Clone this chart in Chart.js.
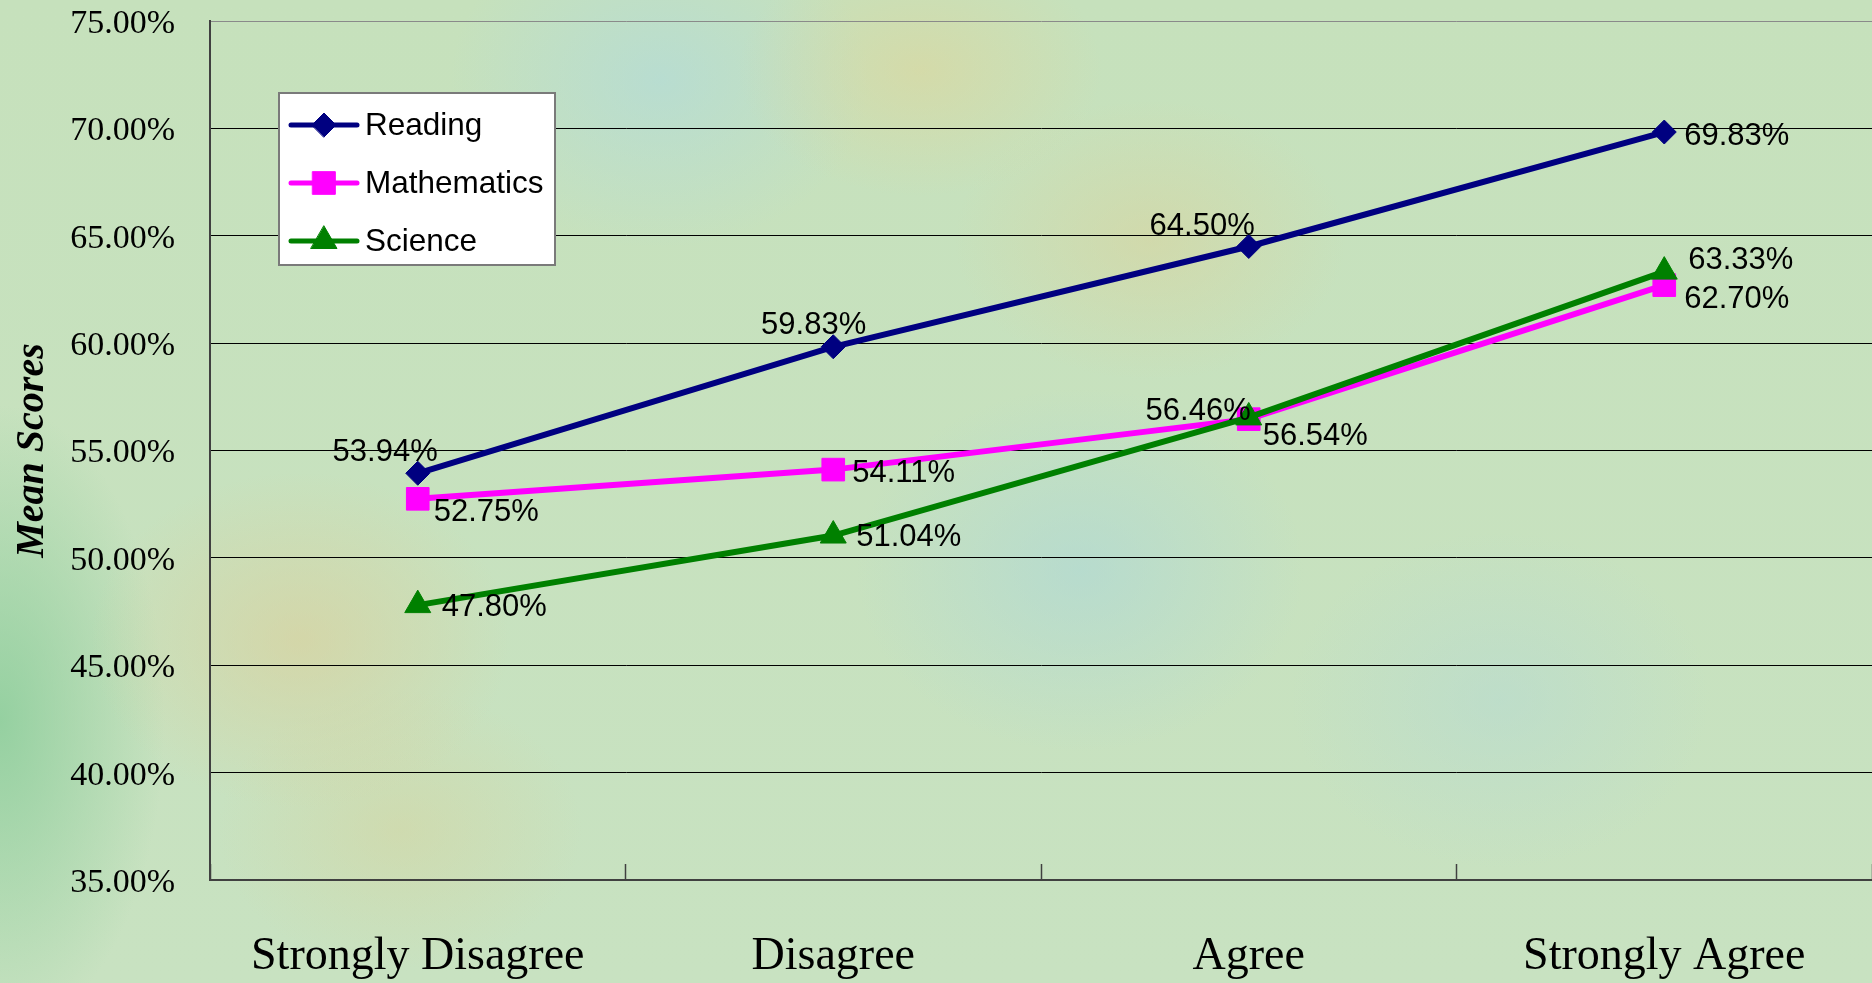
<!DOCTYPE html>
<html>
<head>
<meta charset="utf-8">
<script src="https://cdn.jsdelivr.net/npm/chart.js@4.4.0/dist/chart.umd.min.js"></script>
<style>
html,body{margin:0;padding:0;overflow:hidden;}
body{
  width:1872px;height:983px;
  background:
    radial-gradient(ellipse 300px 240px at 300px 640px, rgba(222,205,150,0.55), rgba(222,205,150,0) 70%),
    radial-gradient(ellipse 260px 180px at 920px 70px, rgba(226,212,150,0.5), rgba(226,212,150,0) 70%),
    radial-gradient(ellipse 280px 200px at 1150px 240px, rgba(222,208,150,0.45), rgba(222,208,150,0) 70%),
    radial-gradient(ellipse 260px 200px at 400px 830px, rgba(218,208,150,0.4), rgba(218,208,150,0) 70%),
    radial-gradient(ellipse 300px 240px at 660px 80px, rgba(175,218,222,0.6), rgba(175,218,222,0) 70%),
    radial-gradient(ellipse 320px 260px at 1080px 570px, rgba(170,214,218,0.55), rgba(170,214,218,0) 70%),
    radial-gradient(ellipse 300px 240px at 1500px 700px, rgba(178,216,214,0.45), rgba(178,216,214,0) 70%),
    radial-gradient(ellipse 220px 420px at 0px 720px, rgba(140,205,155,0.85), rgba(140,205,155,0) 75%),
    linear-gradient(180deg, #c6e1bc, #c8e2c1);
}
#wrap{position:relative;width:1872px;height:983px;}
</style>
</head>
<body>
<div id="wrap"><canvas id="c"></canvas></div>
<script>
// ---- data ----
const categories = ['Strongly Disagree', 'Disagree', 'Agree', 'Strongly Agree'];
const seriesNames = ['Reading', 'Mathematics', 'Science'];
const reading = [53.94, 59.83, 64.50, 69.83];
const mathematics = [52.75, 54.11, 56.46, 62.70];
const science = [47.80, 51.04, 56.54, 63.33];
const yTickValues = [35, 40, 45, 50, 55, 60, 65, 70, 75];
const yAxisTitle = 'Mean Scores';

// ---- styles ----
const seriesColors = ['#000080', '#FF00FF', '#008000'];
const seriesMarkers = ['rectRot', 'rect', 'triangle'];
const markerRadius = [12, 16, 15];
const drawOrder = [2, 1, 0];
// label placement per point: [textAlign, dx, dy] relative to the point
const labelPlacement = [
  [['right', 20, -21], ['right', 33, -21], ['right', 6, -20], ['left', 20, 4]],
  [['left', 16, 14], ['left', 19, 4], ['right', 2, -8], ['left', 20, 14]],
  [['left', 24, 2], ['left', 23, 2], ['left', 14, 19], ['left', 24, -11]]
];
const legendStyle = {dx: 69, dy: 72, w: 276, h: 172, firstRow: 32, rowGap: 58, lineStart: 12, lineEnd: 78, marker: 45, textX: 86};

const SERIF = '"Liberation Serif", "Times New Roman", serif';
const SANS = '"Liberation Sans", Arial, sans-serif';

const seriesValues = [reading, mathematics, science];

const boxLegend = {
  id: 'boxLegend',
  beforeDatasetsDraw(chart) {
    const ctx = chart.ctx, ca = chart.chartArea, L = legendStyle;
    const x0 = ca.left + L.dx, y0 = ca.top + L.dy;
    ctx.save();
    ctx.fillStyle = '#ffffff';
    ctx.fillRect(x0, y0, L.w, L.h);
    ctx.strokeStyle = '#7a7a7a';
    ctx.lineWidth = 2;
    ctx.strokeRect(x0, y0, L.w, L.h);
    chart.data.datasets.forEach((ds, i) => {
      const cy = y0 + L.firstRow + i * L.rowGap;
      ctx.strokeStyle = ds.borderColor;
      ctx.lineWidth = 5;
      ctx.lineCap = 'round';
      ctx.beginPath();
      ctx.moveTo(x0 + L.lineStart, cy);
      ctx.lineTo(x0 + L.lineEnd, cy);
      ctx.stroke();
      ctx.fillStyle = ds.pointBackgroundColor;
      ctx.strokeStyle = ds.pointBorderColor;
      ctx.lineWidth = 1;
      Chart.helpers.drawPoint(ctx, {pointStyle: ds.pointStyle, radius: ds.pointRadius, borderWidth: 1, rotation: 0}, x0 + L.marker, cy);
      ctx.fillStyle = '#000';
      ctx.font = '31.5px ' + SANS;
      ctx.textAlign = 'left';
      ctx.textBaseline = 'middle';
      ctx.fillText(ds.label, x0 + L.textX, cy + 1);
    });
    ctx.restore();
  }
};

const valueLabels = {
  id: 'valueLabels',
  afterDatasetsDraw(chart) {
    const ctx = chart.ctx;
    ctx.save();
    ctx.font = '31px ' + SANS;
    ctx.fillStyle = '#000';
    ctx.textBaseline = 'middle';
    chart.data.datasets.forEach((ds, i) => {
      const meta = chart.getDatasetMeta(i);
      meta.data.forEach((pt, j) => {
        const p = labelPlacement[i][j];
        ctx.textAlign = p[0];
        ctx.fillText(ds.data[j].toFixed(2) + '%', pt.x + p[1], pt.y + p[2]);
      });
    });
    ctx.restore();
  }
};

new Chart(document.getElementById('c'), {
  type: 'line',
  data: {
    labels: categories,
    datasets: seriesNames.map((name, i) => ({
      label: name,
      data: seriesValues[i],
      borderColor: seriesColors[i],
      backgroundColor: seriesColors[i],
      pointBackgroundColor: seriesColors[i],
      pointBorderColor: seriesColors[i],
      pointStyle: seriesMarkers[i],
      pointRadius: markerRadius[i],
      pointBorderWidth: 1,
      borderWidth: 6,
      tension: 0,
      fill: false,
      order: drawOrder[i]
    }))
  },
  options: {
    responsive: true,
    maintainAspectRatio: false,
    animation: false,
    events: [],
    layout: {autoPadding: false, padding: {top: 21, left: 0, right: 0, bottom: 0}},
    plugins: {legend: {display: false}, tooltip: {enabled: false}},
    scales: {
      x: {
        offset: true,
        grid: {display: true, drawOnChartArea: false, drawTicks: true, tickLength: -16, tickColor: '#404040', tickWidth: 1.5, color: '#404040', offset: true},
        border: {display: true, color: '#404040', width: 2},
        ticks: {font: {family: SERIF, size: 46}, color: '#000', padding: 65, maxRotation: 0, autoSkip: false},
        afterFit: (s) => { s.height = 103; }
      },
      y: {
        min: 35,
        max: 75,
        afterBuildTicks: (s) => { s.ticks = yTickValues.map(v => ({value: v})); },
        ticks: {font: {family: SERIF, size: 34}, color: '#000', padding: 0, labelOffset: 3, callback: (v) => Number(v).toFixed(2) + '%'},
        grid: {color: (c) => (c.tick && c.tick.value === 75) ? '#8a8a8a' : '#000000', lineWidth: 1, drawTicks: true, tickLength: 35, tickColor: 'rgba(0,0,0,0)'},
        border: {display: true, color: '#404040', width: 2},
        title: {display: true, text: yAxisTitle, color: '#000', font: {family: SERIF, size: 40, style: 'italic', weight: 'bold'}, padding: {top: 9, bottom: 0}},
        afterFit: (s) => { s.width = 210; }
      }
    }
  },
  plugins: [boxLegend, valueLabels]
});
</script>
</body>
</html>
